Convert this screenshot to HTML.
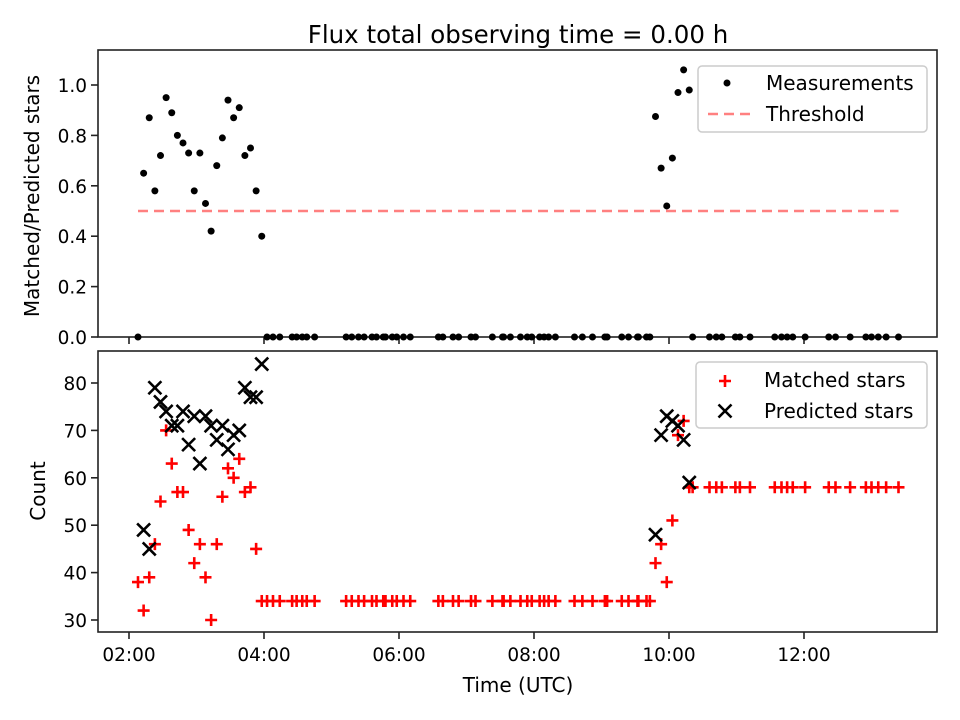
<!DOCTYPE html>
<html><head><meta charset="utf-8"><style>
html,body{margin:0;padding:0;background:#fff;}
svg{display:block;font-family:"DejaVu Sans","Liberation Sans",sans-serif;}
</style></head><body>
<svg id="chart" width="960" height="720" viewBox="0 0 960 720"></svg>
<script>
// Times in minutes since midnight (UTC)
const times = [128,133,138,143,148,153,158,163,168,173,178,183,188,193,198,203,208,213,218,223,228,233,238,
  242.7,248,254,265,269,274,278,285,313,318,324,329,336,340,346,348,354,358,364,370,395,399,408,413,424,428,443,452,453,459,468,474,478,485,489,493,499,516,523,532,543,545,558,564,572,572.8,580,583,
  588,593,598,603,608,613,618,
  621,636,642,647,659,663,672,694,700,705,710,721,742,748,761,775,780,786,793,804];
const matched = [38,32,39,46,55,70,63,57,57,49,42,46,39,30,46,56,62,60,64,57,58,45,34,
  34,34,34,34,34,34,34,34,34,34,34,34,34,34,34,34,34,34,34,34,34,34,34,34,34,34,34,34,34,34,34,34,34,34,34,34,34,34,34,34,34,34,34,34,34,34,34,34,
  42,46,38,51,69,72,58,
  58,58,58,58,58,58,58,58,58,58,58,58,58,58,58,58,58,58,58,58];
const predicted = [null,49,45,79,76,74,71,71,74,67,73,63,73,71,68,71,66,69,70,79,77,77,84,
  null,null,null,null,null,null,null,null,null,null,null,null,null,null,null,null,null,null,null,null,null,null,null,null,null,null,null,null,null,null,null,null,null,null,null,null,null,null,null,null,null,null,null,null,null,null,null,null,
  48,69,73,72,71,68,59,
  null,null,null,null,null,null,null,null,null,null,null,null,null,null,null,null,null,null,null,null];
const ratio = [0,0.65,0.87,0.58,0.72,0.95,0.89,0.80,0.77,0.73,0.58,0.73,0.53,0.42,0.68,0.79,0.94,0.87,0.91,0.72,0.75,0.58,0.40,
  0,0,0,0,0,0,0,0,0,0,0,0,0,0,0,0,0,0,0,0,0,0,0,0,0,0,0,0,0,0,0,0,0,0,0,0,0,0,0,0,0,0,0,0,0,0,0,0,
  0.875,0.67,0.52,0.71,0.97,1.06,0.98,
  0,0,0,0,0,0,0,0,0,0,0,0,0,0,0,0,0,0,0,0];
const threshold = 0.5;
const xTickLabels = ["02:00","04:00","06:00","08:00","10:00","12:00"];
const xTickValues = [120,240,360,480,600,720];
const topTicks = [0.0,0.2,0.4,0.6,0.8,1.0];
const botTicks = [30,40,50,60,70,80];

const NS="http://www.w3.org/2000/svg";
const svg=document.getElementById('chart');
function mk(tag,attrs,parent){const e=document.createElementNS(NS,tag);for(const k in attrs)e.setAttribute(k,attrs[k]);(parent||svg).appendChild(e);return e;}
const L=98,R=937,T1=50,B1=337,T2=351,B2=632;
const x=m=>129+(m-120)*67.5/60;
const y1=v=>337-v*252;
const y2=v=>620-(v-30)*4.74;

let t=mk('text',{x:518,y:43,'text-anchor':'middle','font-size':24.5,fill:'#000'});t.textContent='Flux total observing time = 0.00 h';



const f1=mk('rect',{x:L,y:T1,width:R-L,height:B1-T1,fill:'none',stroke:'#222','stroke-width':1.6});


const f2=mk('rect',{x:L,y:T2,width:R-L,height:B2-T2,fill:'none',stroke:'#222','stroke-width':1.6});



xTickValues.forEach((v,i)=>{
  const px=x(v);
  const a=mk('line',{x1:px,x2:px,y1:B1,y2:B1+7,stroke:'#222','stroke-width':1.6});
  
  
  const b=mk('line',{x1:px,x2:px,y1:B2,y2:B2+7,stroke:'#222','stroke-width':1.6});
  
  
  const tl=mk('text',{x:px,y:B2+29,'text-anchor':'middle','font-size':18.5,fill:'#000'});tl.textContent=xTickLabels[i];
  
  
});
topTicks.forEach(v=>{
  const py=y1(v);
  const a=mk('line',{x1:L-7,x2:L,y1:py,y2:py,stroke:'#222','stroke-width':1.6});
  
  
  const tl=mk('text',{x:L-11,y:py+7,'text-anchor':'end','font-size':18.5,fill:'#000'});tl.textContent=v.toFixed(1);
  
  
});
botTicks.forEach(v=>{
  const py=y2(v);
  const a=mk('line',{x1:L-7,x2:L,y1:py,y2:py,stroke:'#222','stroke-width':1.6});
  
  
  const tl=mk('text',{x:L-11,y:py+7,'text-anchor':'end','font-size':18.5,fill:'#000'});tl.textContent=String(v);
  
  
});
let yl1=mk('text',{x:0,y:0,transform:'translate(39,196) rotate(-90)','text-anchor':'middle','font-size':20,fill:'#000'});yl1.textContent='Matched/Predicted stars';


let yl2=mk('text',{x:0,y:0,transform:'translate(45,491) rotate(-90)','text-anchor':'middle','font-size':20,fill:'#000'});yl2.textContent='Count';


let xl=mk('text',{x:518,y:692,'text-anchor':'middle','font-size':20,fill:'#000'});xl.textContent='Time (UTC)';



const tmin=Math.min(...times),tmax=Math.max(...times);
const th=mk('line',{x1:x(tmin),x2:x(tmax),y1:y1(threshold),y2:y1(threshold),stroke:'#ff8080','stroke-width':2.6,'stroke-dasharray':'10 6'});



times.forEach((m,i)=>{
  const c=mk('circle',{cx:x(m),cy:y1(ratio[i]),r:3.5,fill:'#000'});
  
  
});
function plus(cx,cy,s,col,name){
  const p=mk('path',{d:`M${cx-s} ${cy}H${cx+s}M${cx} ${cy-s}V${cy+s}`,stroke:col,'stroke-width':2.6,fill:'none'});
  
  
}
function cross(cx,cy,s,col,name){
  const p=mk('path',{d:`M${cx-s} ${cy-s}L${cx+s} ${cy+s}M${cx-s} ${cy+s}L${cx+s} ${cy-s}`,stroke:col,'stroke-width':2.6,fill:'none'});
  
  
}
times.forEach((m,i)=>{ plus(x(m),y2(matched[i]),6,'#ff0000','matched-point'); });
times.forEach((m,i)=>{ if(predicted[i]!==null) cross(x(m),y2(predicted[i]),6.5,'#000','predicted-point'); });

const lg1=mk('rect',{x:698,y:66,width:229,height:66,rx:4,fill:'#fff','fill-opacity':0.8,stroke:'#ccc','stroke-width':1.5});


const lc=mk('circle',{cx:727,cy:83,r:3.5,fill:'#000'});


let lt=mk('text',{x:766,y:90,'font-size':20,fill:'#000'});lt.textContent='Measurements';


const ll=mk('line',{x1:708,x2:750,y1:114,y2:114,stroke:'#ff8080','stroke-width':2.6,'stroke-dasharray':'10 6'});


lt=mk('text',{x:766,y:121,'font-size':20,fill:'#000'});lt.textContent='Threshold';



const lg2=mk('rect',{x:696,y:362,width:231,height:66,rx:4,fill:'#fff','fill-opacity':0.8,stroke:'#ccc','stroke-width':1.5});


plus(725,381,6,'#ff0000','legend-matched-marker');
lt=mk('text',{x:764,y:387,'font-size':20,fill:'#000'});lt.textContent='Matched stars';


cross(725,411,6.5,'#000','legend-predicted-marker');
lt=mk('text',{x:764,y:418,'font-size':20,fill:'#000'});lt.textContent='Predicted stars';


</script>
</body></html>
